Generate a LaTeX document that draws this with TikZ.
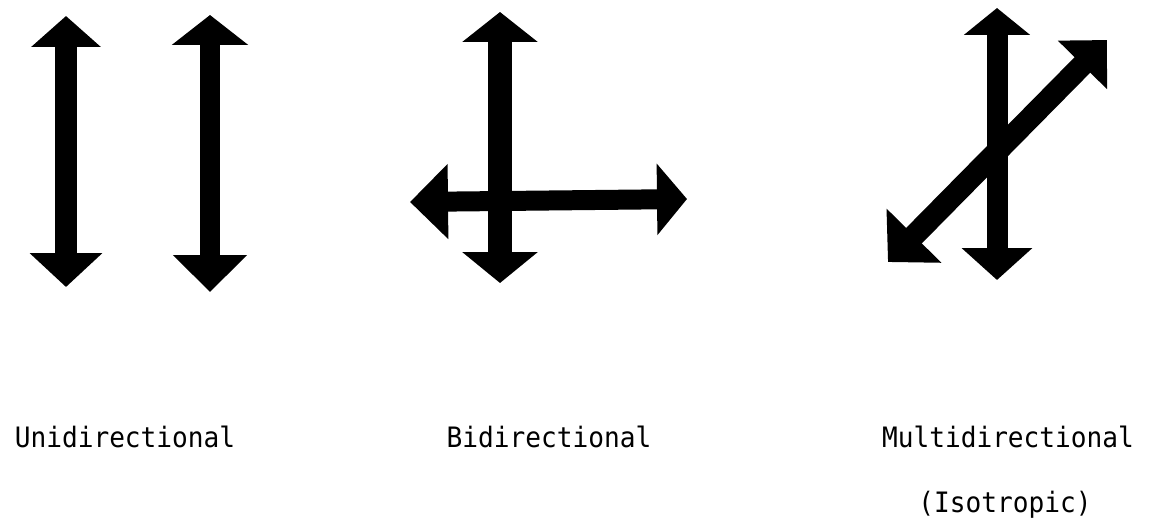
\documentclass[tikz,border=0pt]{standalone}
\usepackage{fontspec}
\newfontfamily\labelfont{DejaVu Sans Mono}[FakeStretch=0.93]
\usetikzlibrary{arrows.meta}

\begin{document}
\begin{tikzpicture}[x=0.02cm, y=-0.02cm,
    dblarrow/.style={line width=#1, line cap=butt},
    label/.style={anchor=base, inner sep=0pt, font=\labelfont\fontsize{16}{19}\selectfont}]
    \useasboundingbox (0,0) rectangle (1153,518);

    % Unidirectional
    \draw[dblarrow=0.46cm, {Triangle[length=0.62cm,width=1.36cm]}-{Triangle[length=0.68cm,width=1.42cm]}] (66,16) -- (66,287);
    \draw[dblarrow=0.40cm, {Triangle[length=0.60cm,width=1.50cm]}-{Triangle[length=0.74cm,width=1.44cm]}] (210,15) -- (210,292);

    % Bidirectional
    \draw[dblarrow=0.48cm, {Triangle[length=0.60cm,width=1.48cm]}-{Triangle[length=0.62cm,width=1.48cm]}] (500,12) -- (500,283);
    \draw[dblarrow=0.40cm, {Triangle[length=0.76cm,width=1.46cm]}-{Triangle[length=0.60cm,width=1.40cm]}] (410,202) -- (687,199);

    % Multidirectional
    \draw[dblarrow=0.42cm, {Triangle[length=0.54cm,width=1.30cm]}-{Triangle[length=0.64cm,width=1.38cm]}] (997,8) -- (997,280);
    \draw[dblarrow=0.44cm, {Triangle[length=0.74cm,width=1.50cm]}-{Triangle[length=0.70cm,width=1.34cm]}] (888,262) -- (1107,40);

    % Labels
    \node[label] (uni) at (125,447) {Unidirectional};
    \node[label] (bi) at (549,447) {Bidirectional};
    \node[label] (multi) at (1008,447) {Multidirectional};
    \node[label] (iso) at (1005,512) {(Isotropic)};
\end{tikzpicture}
\end{document}
